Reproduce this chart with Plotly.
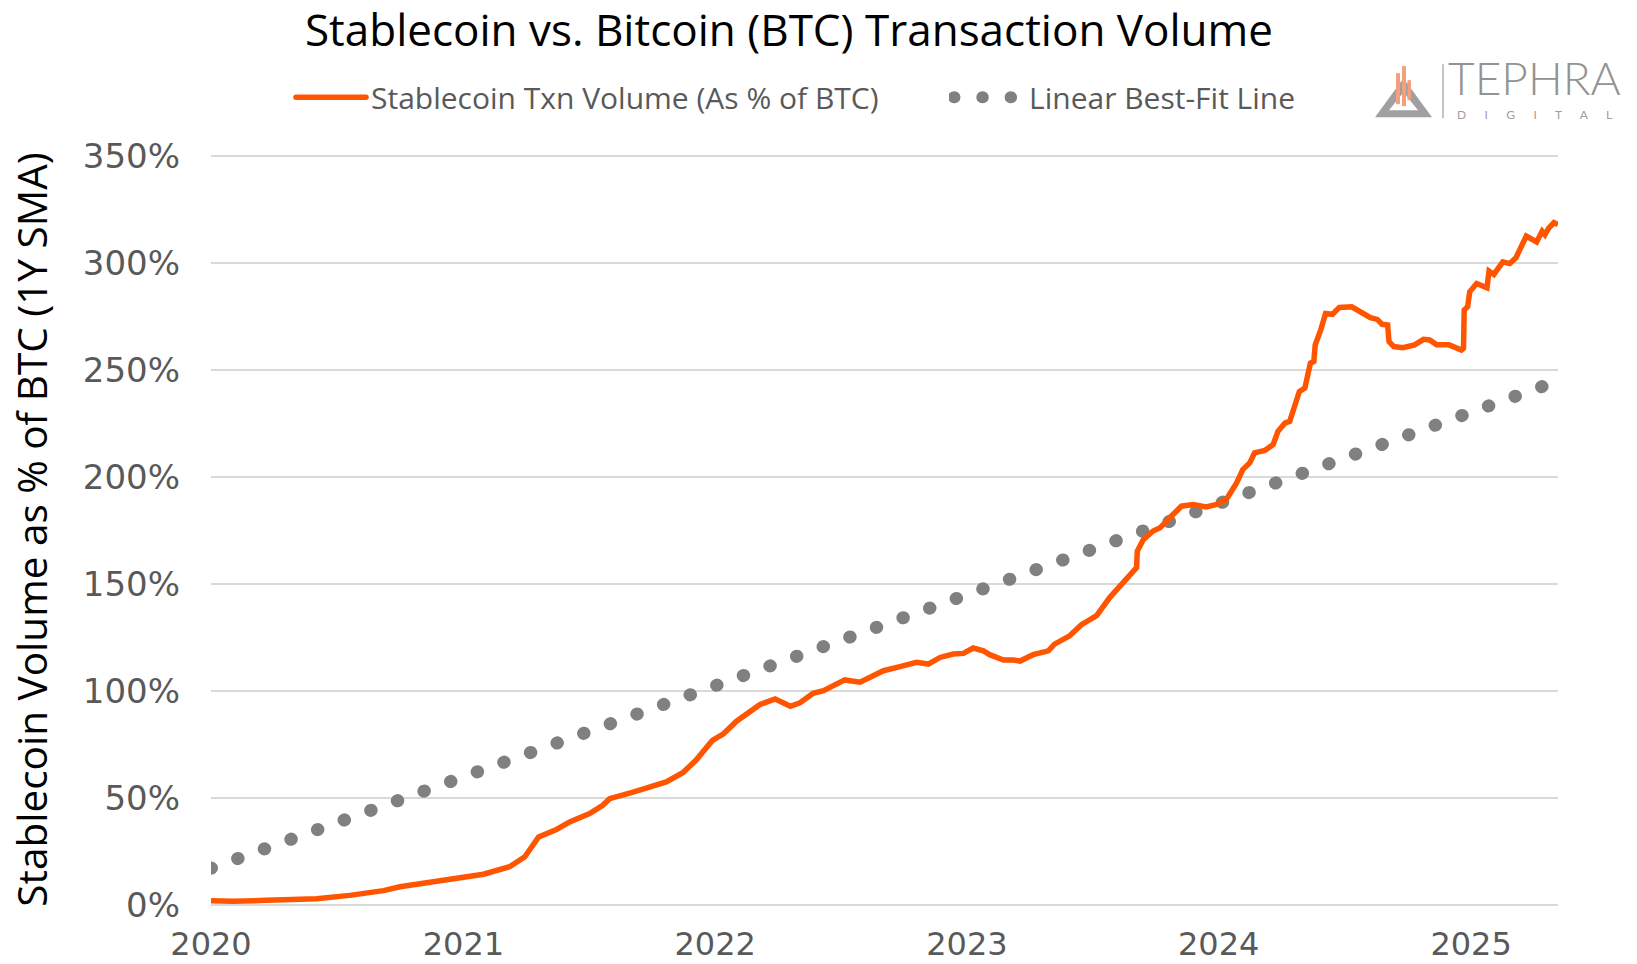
import plotly.graph_objects as go

# ---------------- data ----------------
dates = [
    "2020-01-01", "2020-02-02", "2020-03-22", "2020-06-02", "2020-07-20", "2020-09-07",
    "2020-10-01", "2020-11-18", "2021-01-30", "2021-03-09", "2021-03-31", "2021-04-20",
    "2021-05-16", "2021-06-04", "2021-07-03", "2021-07-22", "2021-08-01", "2021-09-04",
    "2021-10-22", "2021-11-15", "2021-12-04", "2021-12-28", "2022-01-13", "2022-02-01",
    "2022-03-07", "2022-03-29", "2022-04-20", "2022-05-04", "2022-05-23", "2022-06-07",
    "2022-07-08", "2022-07-30", "2022-08-13", "2022-09-02", "2022-09-26", "2022-10-20",
    "2022-11-06", "2022-11-23", "2022-12-12", "2022-12-27", "2023-01-10", "2023-01-25",
    "2023-02-03", "2023-02-23", "2023-03-09", "2023-03-19", "2023-04-07", "2023-04-29",
    "2023-05-08", "2023-05-30", "2023-06-16", "2023-07-08", "2023-07-27", "2023-08-15",
    "2023-08-28", "2023-09-04", "2023-09-05", "2023-09-11", "2023-09-14", "2023-09-28",
    "2023-10-08", "2023-10-22", "2023-11-08", "2023-11-25", "2023-12-14", "2023-12-29",
    "2024-01-12", "2024-01-27", "2024-02-05", "2024-02-15", "2024-02-22", "2024-03-08",
    "2024-03-20", "2024-03-27", "2024-04-06", "2024-04-13", "2024-04-23", "2024-04-27",
    "2024-05-05", "2024-05-13", "2024-05-18", "2024-05-20", "2024-05-28", "2024-06-04",
    "2024-06-14", "2024-06-24", "2024-07-12", "2024-07-24", "2024-08-08", "2024-08-18",
    "2024-08-25", "2024-09-02", "2024-09-04", "2024-09-11", "2024-09-24", "2024-10-11",
    "2024-10-24", "2024-11-02", "2024-11-12", "2024-11-30", "2024-12-18", "2024-12-21",
    "2024-12-22", "2024-12-27", "2024-12-30", "2025-01-09", "2025-01-24", "2025-01-27",
    "2025-02-03", "2025-02-16", "2025-02-26", "2025-03-07", "2025-03-15", "2025-03-22",
    "2025-04-06", "2025-04-14", "2025-04-18", "2025-04-23", "2025-05-01", "2025-05-07",
]
stablecoin_pct = [
    2.0, 1.7, 2.2, 2.9, 4.5, 6.7,
    8.5, 10.7, 14.4, 17.9, 22.5, 31.8,
    35.3, 38.8, 42.7, 46.6, 49.7, 52.8,
    57.5, 61.8, 67.6, 76.9, 80.0, 85.9,
    93.7, 96.3, 92.9, 94.5, 98.9, 100.2,
    105.2, 104.1, 106.1, 109.5, 111.4, 113.4,
    112.6, 115.7, 117.3, 117.6, 120.1, 118.8,
    117.0, 114.5, 114.5, 114.0, 117.0, 118.8,
    121.9, 125.8, 131.0, 135.2, 143.7, 150.7,
    154.9, 157.7, 165.4, 168.6, 170.9, 174.8,
    176.3, 181.0, 186.4, 187.2, 186.0, 187.2,
    189.5, 197.3, 203.5, 206.6, 211.3, 212.4,
    215.2, 221.4, 225.2, 226.0, 236.9, 240.0,
    241.6, 253.2, 254.0, 261.8, 268.8, 276.5,
    276.1, 279.3, 279.6, 277.6, 274.5, 273.7,
    271.4, 271.1, 263.3, 261.0, 260.5, 261.8,
    264.4, 264.1, 261.8, 261.8, 259.4, 260.2,
    278.1, 279.6, 286.6, 290.5, 288.5, 296.3,
    294.7, 300.6, 299.8, 302.5, 307.6, 312.6,
    309.9, 314.9, 313.3, 316.1, 318.9, 318.0,
]
trend_dates = ["2020-01-01", "2025-05-07"]
trend_pct = [17.2, 245.0]

year_ticks = ["2020-01-01", "2021-01-01", "2022-01-01", "2023-01-01", "2024-01-01", "2025-01-01"]
year_labels = ["2020", "2021", "2022", "2023", "2024", "2025"]
pct_ticks = [0, 50, 100, 150, 200, 250, 300, 350]
pct_labels = ["0%", "50%", "100%", "150%", "200%", "250%", "300%", "350%"]

series_names = ["Stablecoin Txn Volume (As % of BTC)", "Linear Best-Fit Line"]

# ---------------- layout geometry ----------------
W, H = 1637, 964
Y_MAX = 351
L, R, B = 211, 1558, 905
T = B - (B - 156) * Y_MAX / 350.0  # keeps 350% at y=156 px


def px_x(px):
    return (px - L) / (R - L)


def px_y(py):
    return (B - py) / (B - T)


ORANGE = "#FF5500"
DOTGRAY = "#808080"
TEXTGRAY = "#595959"
GRID = "#D9D9D9"

fig = go.Figure()
fig.add_trace(go.Scatter(
    x=trend_dates, y=trend_pct, mode="lines", name=series_names[1],
    uid="trend", legend="legend2",
    line=dict(color=DOTGRAY, width=13, dash="0.5px,27.8px"),
    hoverinfo="skip",
))
fig.add_trace(go.Scatter(
    x=dates, y=stablecoin_pct, mode="lines", name=series_names[0],
    uid="stable", legend="legend",
    line=dict(color=ORANGE, width=5.5),
))

legend_font = dict(family="Open Sans", size=30, color=TEXTGRAY)
fig.update_layout(
    width=W, height=H,
    margin=dict(l=L, r=W - R, t=T, b=H - B, pad=0),
    paper_bgcolor="white", plot_bgcolor="white",
    title=dict(
        text="Stablecoin vs. Bitcoin (BTC) Transaction Volume",
        font=dict(family="Open Sans", size=44, color="black"),
        xref="paper", x=px_x(789), xanchor="center",
        yref="container", y=1 - 31 / H, yanchor="middle",
    ),
    showlegend=True,
    legend=dict(
        orientation="h", x=px_x(291), xanchor="left", y=px_y(97), yanchor="middle",
        font=legend_font, bgcolor="rgba(0,0,0,0)", borderwidth=0, itemwidth=70,
    ),
    legend2=dict(
        orientation="h", x=px_x(949), xanchor="left", y=px_y(97), yanchor="middle",
        font=legend_font, bgcolor="rgba(0,0,0,0)", borderwidth=0, itemwidth=70,
    ),
    xaxis=dict(
        type="date", range=[dates[0], dates[-1]],
        tickmode="array", tickvals=year_ticks, ticktext=year_labels,
        showgrid=False, showline=False, zeroline=False, ticks="",
        tickfont=dict(family="DejaVu Sans", size=32, color=TEXTGRAY),
        ticklabelstandoff=17, automargin=False,
    ),
    yaxis=dict(
        range=[0, Y_MAX], tickmode="array", tickvals=pct_ticks, ticktext=pct_labels,
        showgrid=True, gridcolor=GRID, gridwidth=2,
        zeroline=True, zerolinecolor=GRID, zerolinewidth=2,
        showline=False, ticks="",
        tickfont=dict(family="DejaVu Sans", size=34, color=TEXTGRAY),
        ticklabelstandoff=30, automargin=False,
        title=dict(
            text="Stablecoin Volume as % of BTC (1Y SMA)",
            font=dict(family="Open Sans", size=40.5, color="black"),
            standoff=22,
        ),
    ),
    hovermode="x unified",
)

# ---------------- logo (top right) ----------------
shapes = []
shapes.append(dict(
    type="path", xref="paper", yref="paper",
    path="M {} {} L {} {} L {} {} Z".format(px_x(1375), px_y(117), px_x(1432), px_y(117), px_x(1403.5), px_y(78)),
    fillcolor="#A0A0A0", line=dict(width=0), layer="above",
))
shapes.append(dict(
    type="path", xref="paper", yref="paper",
    path="M {} {} L {} {} L {} {} Z".format(px_x(1389), px_y(110), px_x(1418), px_y(110), px_x(1403.5), px_y(92)),
    fillcolor="white", line=dict(width=0), layer="above",
))
for (x0, x1, y0, y1) in [(1396, 1400, 73, 104), (1402, 1406, 66, 106), (1407.5, 1411, 80, 100)]:
    shapes.append(dict(
        type="rect", xref="paper", yref="paper",
        x0=px_x(x0), x1=px_x(x1), y0=px_y(y1), y1=px_y(y0),
        fillcolor="#F3A07C", line=dict(width=0), layer="above",
    ))
shapes.append(dict(
    type="line", xref="paper", yref="paper",
    x0=px_x(1443), x1=px_x(1443), y0=px_y(118), y1=px_y(64),
    line=dict(color="#B0B0B0", width=1.5),
))
fig.update_layout(shapes=shapes)

nb = "\u00a0"
fig.add_annotation(
    text="TEPHRA", xref="paper", yref="paper", x=px_x(1446), y=px_y(77),
    xanchor="left", yanchor="middle", showarrow=False,
    font=dict(family="Lato", size=46, color="#939393", weight=300),
)
fig.add_annotation(
    text=(nb * 6).join(list("DIGITAL")), xref="paper", yref="paper", x=px_x(1455), y=px_y(114),
    xanchor="left", yanchor="middle", showarrow=False,
    font=dict(family="Lato", size=12, color="#A0A0A0"),
)

post_js = r"""
var st = document.createElement('style');
st.textContent = 'html,body{margin:0;padding:0;overflow:hidden;}' +
  '.tracetrend path.js-line{stroke-linecap:round !important;}' +
  '.infolayer g.traces path.js-line{stroke-linecap:round !important;}' +
  '.infolayer g.traces path.js-line[style*="128, 128, 128"]{stroke-width:12px !important;}';
document.head.appendChild(st);
"""

fig.write_html("out.html", post_script=post_js, config={"displayModeBar": False})
